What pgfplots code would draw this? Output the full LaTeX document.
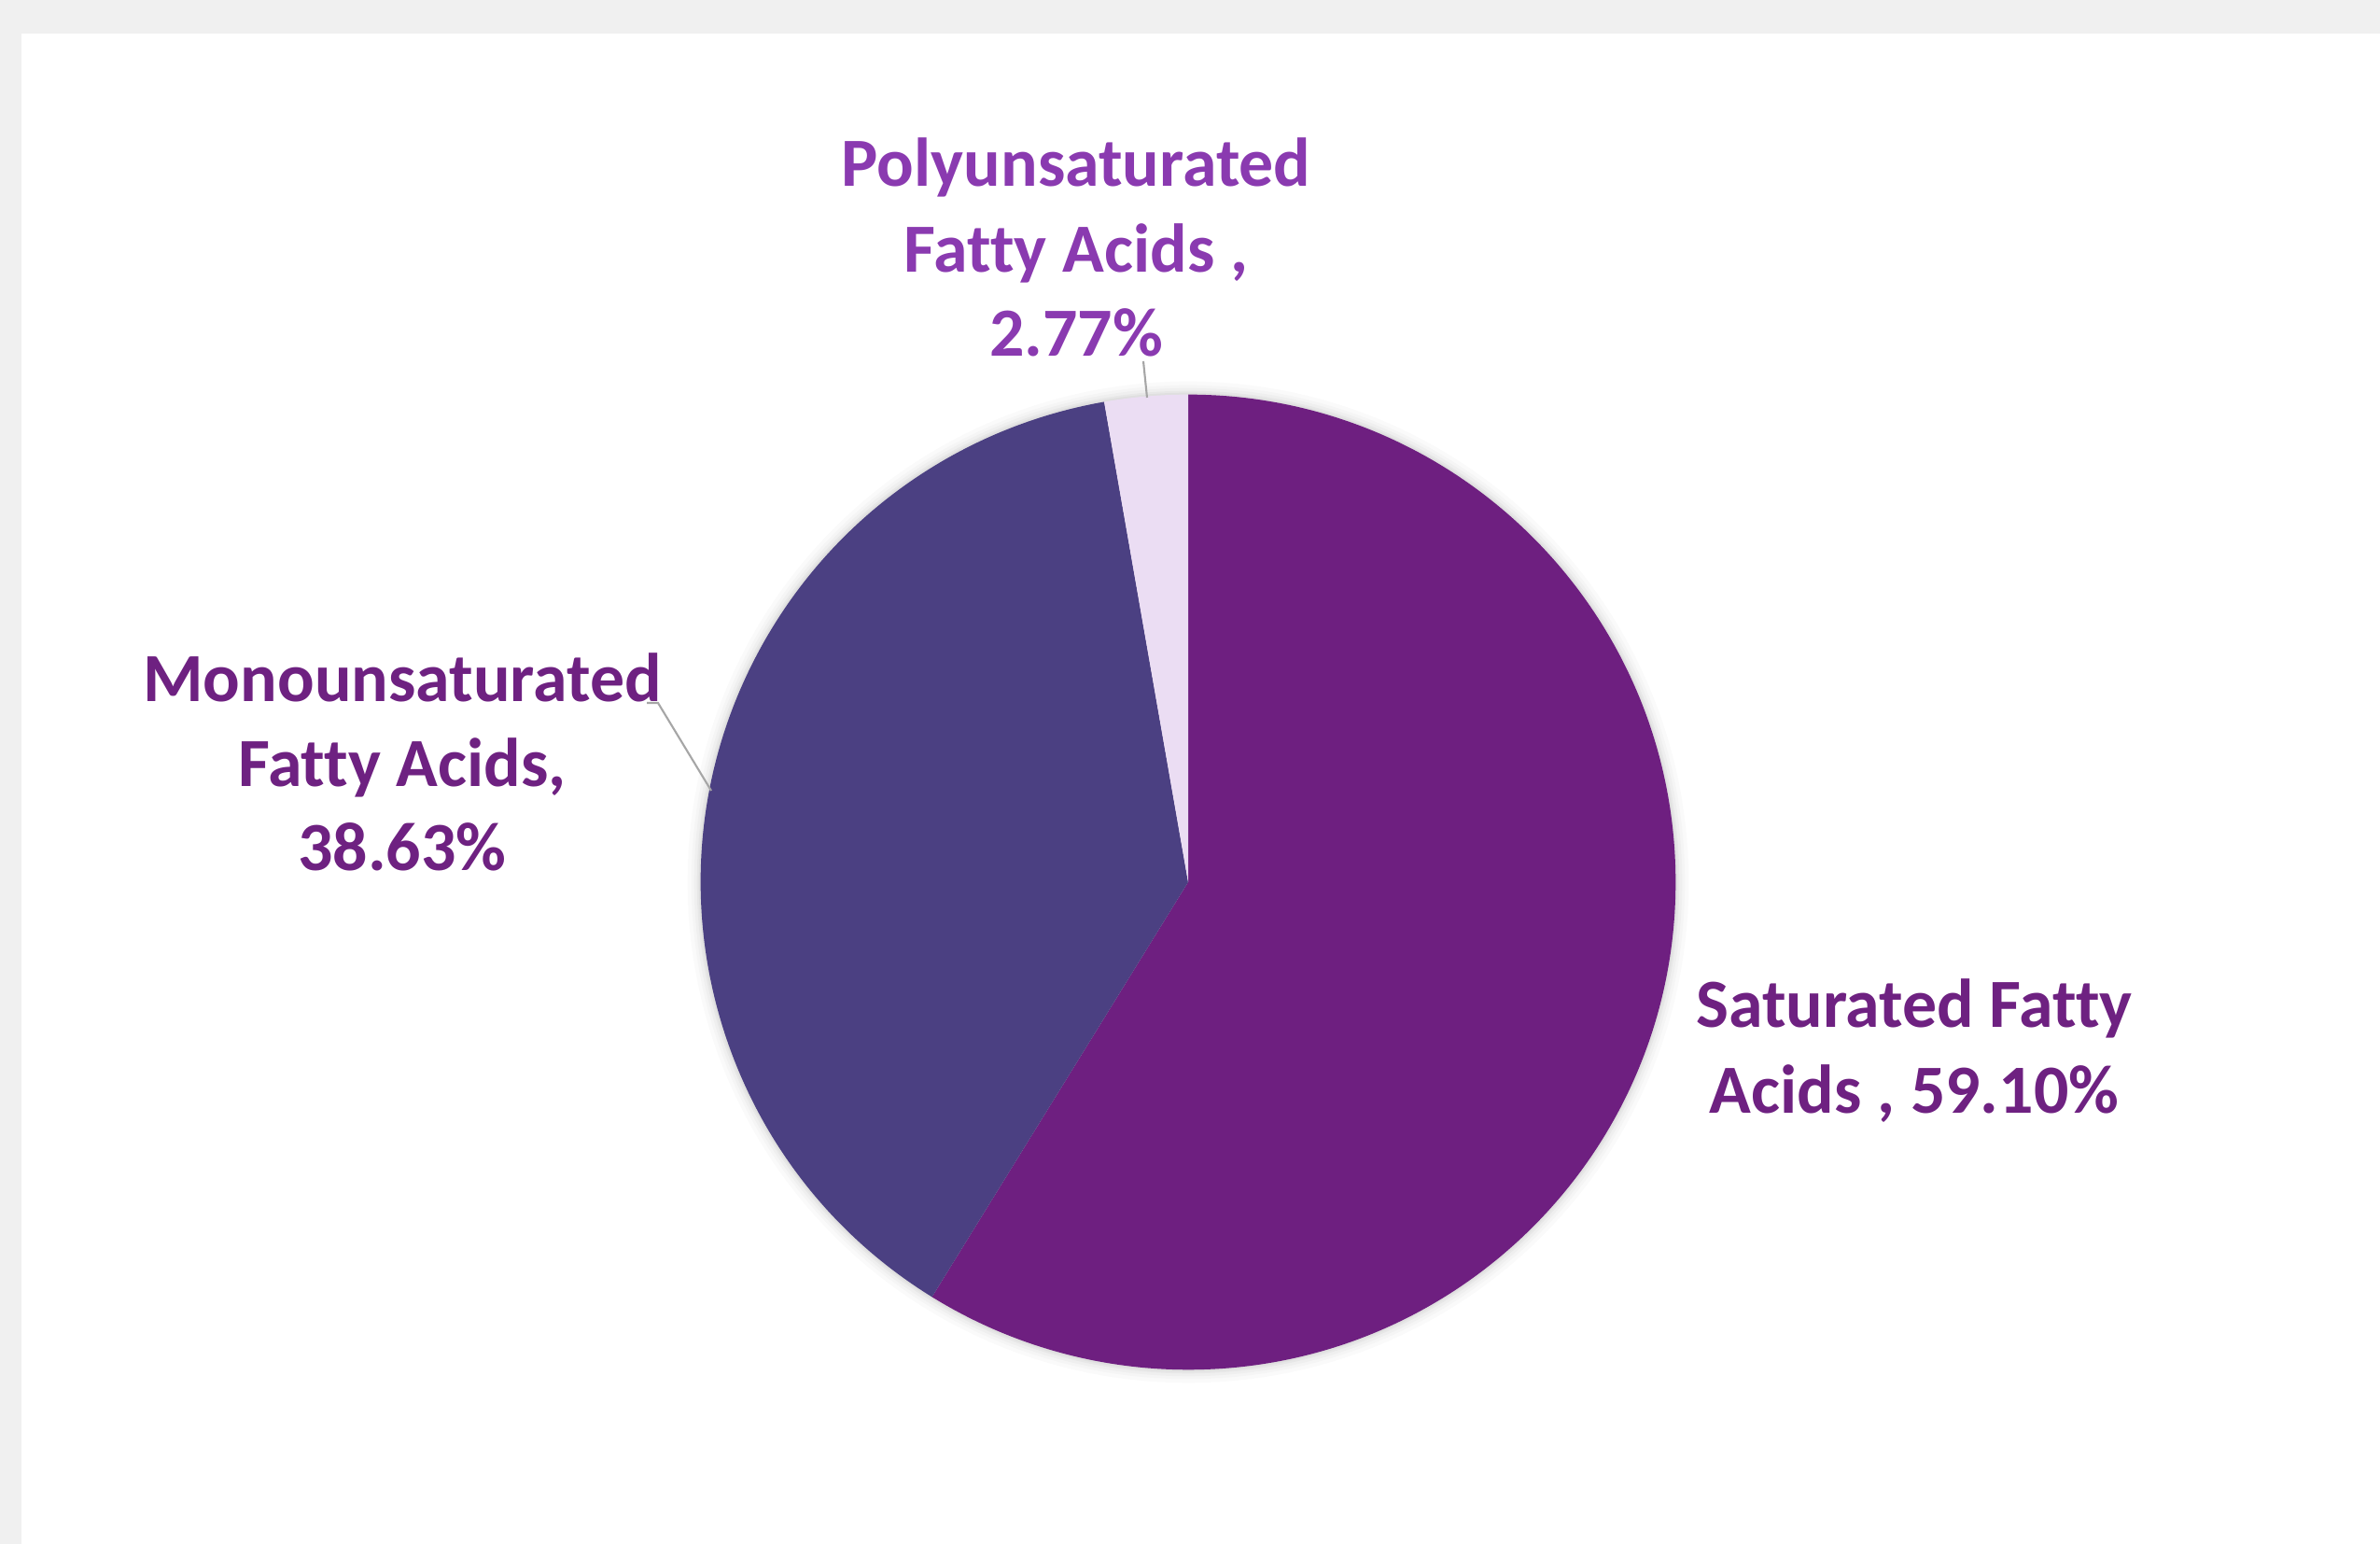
\documentclass[border=0pt]{standalone}
\usepackage{pgfplots}
\pgfplotsset{compat=1.18}
\usepackage{fontspec}
\setmainfont[Ligatures={NoCommon,NoContextual}]{Carlito}
\definecolor{bgc}{HTML}{F0F0F0}
\definecolor{satc}{HTML}{6E1F80}
\definecolor{monoc}{HTML}{4B4082}
\definecolor{polyc}{HTML}{EBDDF3}
\definecolor{labdark}{HTML}{6E2181}
\definecolor{labpoly}{HTML}{8A3AB0}
\definecolor{leader}{HTML}{A6A6A6}
\begin{document}
\begin{tikzpicture}
\pgfmathsetmacro\vS{59.10}
\pgfmathsetmacro\vM{38.63}
\pgfmathsetmacro\vP{2.77}
\pgfmathsetmacro\tot{\vS+\vM+\vP}
\pgfmathsetmacro\fS{\vS/\tot}
\pgfmathsetmacro\fM{\vM/\tot}
\pgfmathsetmacro\fP{\vP/\tot}
\pgfmathsetmacro\aA{90}
\pgfmathsetmacro\aB{90-360*\fS}
\pgfmathsetmacro\aC{\aB-360*\fM}
\pgfmathsetmacro\aD{\aC-360*\fP}
\begin{axis}[x=0.01cm,y=0.01cm,xmin=0,xmax=2550,ymin=0,ymax=1654,
  hide axis,clip=false,scale only axis]
\fill[bgc] (axis cs:0,0) rectangle (axis cs:2550,1654);
\fill[white] (axis cs:23,0) rectangle (axis cs:2550,1618);
% soft shadow
\fill[black,opacity=0.02] (axis cs:1273,709) circle[radius=5.36cm];
\fill[black,opacity=0.02] (axis cs:1273,709) circle[radius=5.32cm];
\fill[black,opacity=0.025] (axis cs:1273,709) circle[radius=5.29cm];
\fill[black,opacity=0.03] (axis cs:1273,709) circle[radius=5.26cm];
\fill[black,opacity=0.03] (axis cs:1273,709) circle[radius=5.24cm];
% slices
\fill[satc] (axis cs:1273,709) -- ++(\aA:5.22cm) arc[start angle=\aA,end angle=\aB,radius=5.22cm] -- cycle;
\fill[monoc] (axis cs:1273,709) -- ++(\aB:5.22cm) arc[start angle=\aB,end angle=\aC,radius=5.22cm] -- cycle;
\fill[polyc] (axis cs:1273,709) -- ++(\aC:5.22cm) arc[start angle=\aC,end angle=\aD,radius=5.22cm] -- cycle;
% leaders
\draw[leader,line width=0.6pt] (axis cs:1225,1267) -- (axis cs:1229,1228);
\draw[leader,line width=0.6pt] (axis cs:693,901) -- (axis cs:705,901) -- (axis cs:762,807);
% labels
\tikzset{lab/.style={anchor=base,inner sep=0pt,font=\bfseries\fontsize{21}{25}\selectfont}}
\node[lab,text=labpoly] at (axis cs:1153,1454) {Polyunsaturated};
\node[lab,text=labpoly] at (axis cs:1153,1362) {Fatty Acids ,};
\node[lab,text=labpoly] at (axis cs:1153,1272) {2.77\%};
\node[lab,text=labdark] at (axis cs:431,902) {Monounsaturated};
\node[lab,text=labdark] at (axis cs:431,811) {Fatty Acids,};
\node[lab,text=labdark] at (axis cs:431,721) {38.63\%};
\node[lab,text=labdark] at (axis cs:2051,553) {Saturated Fatty};
\node[lab,text=labdark] at (axis cs:2051,461) {Acids , 59.10\%};
\end{axis}
\end{tikzpicture}
\end{document}
